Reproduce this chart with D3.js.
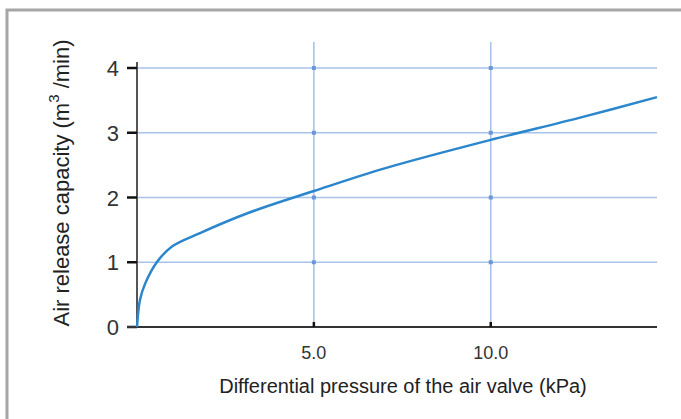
<!DOCTYPE html>
<html>
<head>
<meta charset="utf-8">
<script src="https://cdn.jsdelivr.net/npm/d3@7"></script>
<style>
  body { margin: 0; background: #fff; }
  text { font-family: "Liberation Sans", Arial, sans-serif; }
</style>
</head>
<body>
<script>
// curve
var pressure = [0, 0.085, 0.23, 0.56, 0.98, 1.78, 3.14, 5.0, 7.0, 10.0, 12.5, 14.7];
var capacity = [0, 0.42, 0.67, 1.0, 1.24, 1.45, 1.76, 2.1, 2.45, 2.89, 3.23, 3.55];
var yTicks = [0, 1, 2, 3, 4];
var xTicks = [5, 10];
var xTickLabels = ["5.0", "10.0"];

var svg = d3.select("body").append("svg")
    .attr("width", 681)
    .attr("height", 419);

// frame
svg.append("path")
    .attr("d", "M7,419 V10 H681")
    .attr("fill", "none")
    .attr("stroke", "#a6a6a6")
    .attr("stroke-width", 3);

var x = d3.scaleLinear().domain([0, 14.7]).range([137, 657]);
var y = d3.scaleLinear().domain([0, 4]).range([327, 68]);

var grid = "#a8c3ea";

// horizontal grid
svg.selectAll(".hgrid")
    .data(yTicks.filter(function(d){ return d > 0; }))
    .enter().append("line")
    .attr("x1", x(0)).attr("x2", x(14.7))
    .attr("y1", function(d){ return y(d); })
    .attr("y2", function(d){ return y(d); })
    .attr("stroke", grid).attr("stroke-width", 1.6);

// vertical grid
svg.selectAll(".vgrid")
    .data(xTicks)
    .enter().append("line")
    .attr("x1", function(d){ return x(d); })
    .attr("x2", function(d){ return x(d); })
    .attr("y1", 42).attr("y2", y(0))
    .attr("stroke", grid).attr("stroke-width", 1.6);

// little dots where grid lines cross
xTicks.forEach(function(xv){
    yTicks.filter(function(d){ return d > 0; }).forEach(function(yv){
        svg.append("rect")
            .attr("x", x(xv) - 2).attr("y", y(yv) - 2)
            .attr("width", 4).attr("height", 4)
            .attr("fill", "#6b97d8");
    });
});

// y axis
svg.append("line")
    .attr("x1", x(0)).attr("x2", x(0))
    .attr("y1", 62).attr("y2", y(0))
    .attr("stroke", "#555").attr("stroke-width", 2);

svg.selectAll(".ytick")
    .data(yTicks)
    .enter().append("line")
    .attr("x1", 127).attr("x2", x(0))
    .attr("y1", function(d){ return y(d); })
    .attr("y2", function(d){ return y(d); })
    .attr("stroke", "#111").attr("stroke-width", 2.5);

svg.selectAll(".ylab")
    .data(yTicks)
    .enter().append("text")
    .attr("x", 119)
    .attr("y", function(d){ return y(d) + 8; })
    .attr("text-anchor", "end")
    .attr("font-size", 22)
    .attr("fill", "#333")
    .text(function(d){ return d; });

// x axis
svg.append("line")
    .attr("x1", 127).attr("x2", x(14.7))
    .attr("y1", y(0)).attr("y2", y(0))
    .attr("stroke", "#333").attr("stroke-width", 2.2);

svg.selectAll(".xtick")
    .data(xTicks)
    .enter().append("line")
    .attr("x1", function(d){ return x(d); })
    .attr("x2", function(d){ return x(d); })
    .attr("y1", y(0) - 5).attr("y2", y(0))
    .attr("stroke", "#111").attr("stroke-width", 2.5);

svg.selectAll(".xlab")
    .data(xTicks)
    .enter().append("text")
    .attr("x", function(d){ return x(d); })
    .attr("y", 359)
    .attr("text-anchor", "middle")
    .attr("font-size", 18)
    .attr("fill", "#333")
    .text(function(d, i){ return xTickLabels[i]; });

// the curve
var pts = pressure.map(function(p, i){ return [p, capacity[i]]; });
var line = d3.line()
    .x(function(d){ return x(d[0]); })
    .y(function(d){ return y(d[1]); })
    .curve(d3.curveCatmullRom.alpha(0.5));

svg.append("path")
    .datum(pts)
    .attr("d", line)
    .attr("fill", "none")
    .attr("stroke", "#2b86cc")
    .attr("stroke-width", 2.5);

// titles
svg.append("text")
    .attr("x", 403).attr("y", 393)
    .attr("text-anchor", "middle")
    .attr("font-size", 20)
    .attr("fill", "#222")
    .text("Differential pressure of the air valve (kPa)");

var yt = svg.append("text")
    .attr("transform", "translate(69,183) rotate(-90)")
    .attr("text-anchor", "middle")
    .attr("font-size", 22)
    .attr("fill", "#222");
yt.append("tspan").text("Air release capacity (m");
yt.append("tspan").attr("dy", -10).attr("font-size", 15).text("3");
yt.append("tspan").attr("dy", 10).text(" /min)");
</script>
</body>
</html>
